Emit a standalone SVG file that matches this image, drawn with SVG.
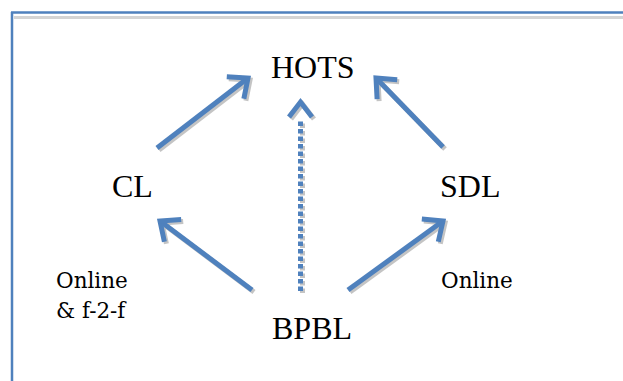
<svg xmlns="http://www.w3.org/2000/svg" width="623" height="381" viewBox="0 0 623 381">
<style>
.lbl{font-family:"Liberation Serif","Times New Roman",serif;font-size:32px;fill:#000}
.sm{font-family:"DejaVu Serif",serif;font-size:21.5px;fill:#000}
.sh{fill:none;stroke:#c4c4c4;stroke-width:5}
.ar{fill:none;stroke:#4f81bd;stroke-width:5}
</style>
<defs>
<marker id="hb" markerUnits="userSpaceOnUse" viewBox="-24 -18 30 36" refX="0" refY="0" markerWidth="30" markerHeight="36" orient="auto" overflow="visible">
<path d="M-16,-14 L0,0 L-16,14" fill="none" stroke="#4f81bd" stroke-width="5" stroke-miterlimit="10"/>
</marker>
<marker id="hg" markerUnits="userSpaceOnUse" viewBox="-24 -18 30 36" refX="0" refY="0" markerWidth="30" markerHeight="36" orient="auto" overflow="visible">
<path d="M-16,-14 L0,0 L-16,14" fill="none" stroke="#c4c4c4" stroke-width="5" stroke-miterlimit="10"/>
</marker>
</defs>
<rect width="623" height="381" fill="#fff"/>
<g id="frame">
<line x1="14" y1="17.5" x2="623" y2="17.5" stroke="#d4d4d4" stroke-width="3"/>
<line x1="12" y1="12" x2="12" y2="381" stroke="#4f81bd" stroke-width="2.5"/>
<line x1="11" y1="12.5" x2="623" y2="12.5" stroke="#4f81bd" stroke-width="2.5"/>
</g>
<g id="connectors">
<g transform="translate(2,2)">
<line class="sh" x1="157" y1="148" x2="248" y2="78" marker-end="url(#hg)"/>
<line class="sh" x1="443" y1="147" x2="376" y2="78" marker-end="url(#hg)"/>
<line class="sh" x1="252" y1="290" x2="160" y2="221" marker-end="url(#hg)"/>
<line class="sh" x1="348" y1="290" x2="443" y2="221" marker-end="url(#hg)"/>
<line class="sh" x1="300.5" y1="291" x2="300.5" y2="120" stroke-dasharray="4.5 3"/>
<path d="M289,117 L300.5,102 L312,117" class="sh"/>
</g>
<line class="ar" x1="157" y1="148" x2="248" y2="78" marker-end="url(#hb)"/>
<line class="ar" x1="443" y1="147" x2="376" y2="78" marker-end="url(#hb)"/>
<line class="ar" x1="252" y1="290" x2="160" y2="221" marker-end="url(#hb)"/>
<line class="ar" x1="348" y1="290" x2="443" y2="221" marker-end="url(#hb)"/>
<line class="ar" x1="300.5" y1="291" x2="300.5" y2="120" stroke-dasharray="4.5 3"/>
<path d="M289,117 L300.5,102 L312,117" class="ar"/>
</g>
<g id="hots"><text class="lbl" x="271" y="78">HOTS</text></g>
<g id="cl"><text class="lbl" x="112" y="197">CL</text></g>
<g id="sdl"><text class="lbl" x="440" y="197">SDL</text></g>
<g id="bpbl"><text class="lbl" x="272" y="339">BPBL</text></g>
<g id="online-left"><text class="sm" x="56" y="288">Online</text><text class="sm" x="56" y="318">&amp; f-2-f</text></g>
<g id="online-right"><text class="sm" x="441" y="288">Online</text></g>
</svg>
